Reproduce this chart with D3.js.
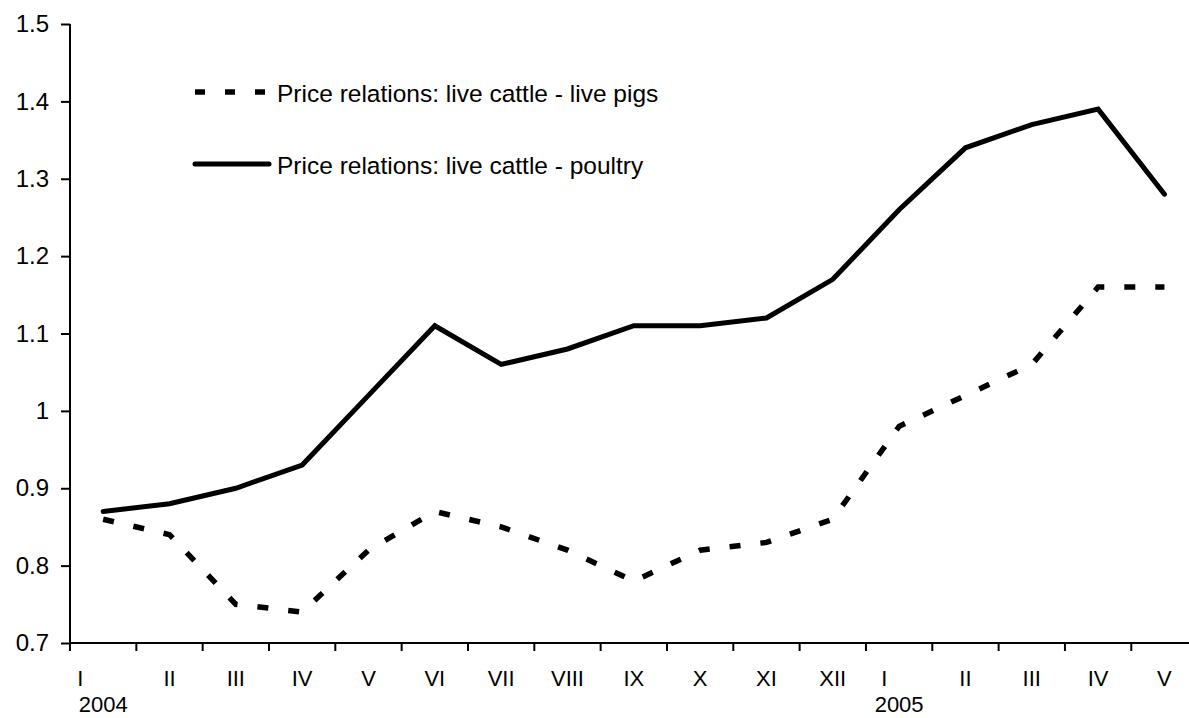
<!DOCTYPE html>
<html>
<head>
<meta charset="utf-8">
<script src="https://cdn.jsdelivr.net/npm/d3@7"></script>
<style>
  html, body { margin: 0; padding: 0; background: #fff; }
  svg { display: block; }
  text { font-family: "Liberation Sans", Arial, sans-serif; fill: #000; }
</style>
</head>
<body>
<svg id="chart" width="1189" height="718"></svg>
<script>
// ---- data ----
const months = ["I","II","III","IV","V","VI","VII","VIII","IX","X","XI","XII","I","II","III","IV","V"];
const years  = ["2004","","","","","","","","","","","","2005","","","",""];
const cattlePigs    = [0.86,0.84,0.75,0.74,0.82,0.87,0.85,0.82,0.78,0.82,0.83,0.86,0.98,1.02,1.06,1.16,1.16];
const cattlePoultry = [0.87,0.88,0.90,0.93,1.02,1.11,1.06,1.08,1.11,1.11,1.12,1.17,1.26,1.34,1.37,1.39,1.28];
const yTicks = [0.7,0.8,0.9,1.0,1.1,1.2,1.3,1.4,1.5];
const yTickLabels = ["0.7","0.8","0.9","1","1.1","1.2","1.3","1.4","1.5"];
const seriesNames = ["Price relations: live cattle - live pigs","Price relations: live cattle - poultry"];

// ---- layout ----
const svg = d3.select("#chart");
const idx = d3.range(months.length);
const x = d3.scaleBand().domain(idx).range([70, 70 + 17 * 66.33]).padding(0);
const y = d3.scaleLinear().domain([0.7, 1.5]).range([643, 24]);
const cx = i => x(i) + x.bandwidth() / 2;

// y axis
const yAxis = d3.axisLeft(y)
  .tickValues(yTicks)
  .tickSize(9)
  .tickPadding(12)
  .tickFormat((d, i) => yTickLabels[i]);
const gy = svg.append("g").attr("transform", "translate(70,0)").call(yAxis);
gy.select(".domain").attr("stroke", "#000").attr("stroke-width", 2).attr("d", `M0,${y(1.5)}V${y(0.7)}`);
gy.selectAll(".tick line").attr("stroke", "#000").attr("stroke-width", 2);
gy.selectAll(".tick text").attr("font-size", 24).attr("font-family", '"Liberation Sans", Arial, sans-serif');

// x axis (ticks at category boundaries)
const gx = svg.append("g");
gx.append("line")
  .attr("x1", 69).attr("x2", 1189)
  .attr("y1", y(0.7)).attr("y2", y(0.7))
  .attr("stroke", "#000").attr("stroke-width", 2);
gx.selectAll("line.tk").data(idx.concat([months.length])).enter().append("line")
  .attr("class", "tk")
  .attr("x1", d => d < months.length ? x(d) : x(d - 1) + x.bandwidth())
  .attr("x2", d => d < months.length ? x(d) : x(d - 1) + x.bandwidth())
  .attr("y1", y(0.7)).attr("y2", y(0.7) + 8)
  .attr("stroke", "#000").attr("stroke-width", 2);

const monthOffset = {0: -26, 12: -18};
gx.selectAll("text.m").data(idx).enter().append("text")
  .attr("class", "m")
  .attr("font-size", 22)
  .attr("text-anchor", d => monthOffset[d] !== undefined ? "start" : "middle")
  .attr("x", d => monthOffset[d] !== undefined ? cx(d) + monthOffset[d] : cx(d))
  .attr("y", 686)
  .text(d => months[d]);
gx.selectAll("text.yr").data(idx.filter(i => years[i])).enter().append("text")
  .attr("class", "yr")
  .attr("font-size", 22)
  .attr("text-anchor", "middle")
  .attr("x", d => cx(d))
  .attr("y", 712)
  .text(d => years[d]);

// lines
const line = d3.line().x((d, i) => cx(i)).y(d => y(d));
svg.append("path").datum(cattlePoultry)
  .attr("d", line).attr("fill", "none")
  .attr("stroke", "#000").attr("stroke-width", 5)
  .attr("stroke-linecap", "round").attr("stroke-linejoin", "miter");
svg.append("path").datum(cattlePigs)
  .attr("d", line).attr("fill", "none")
  .attr("stroke", "#000").attr("stroke-width", 5.5)
  .attr("stroke-dasharray", "11,20")
  .attr("stroke-linejoin", "miter");

// legend
const leg = svg.append("g");
const legY = [92, 164];
leg.append("line").attr("x1", 195).attr("x2", 267).attr("y1", legY[0]).attr("y2", legY[0])
  .attr("stroke", "#000").attr("stroke-width", 5.5).attr("stroke-dasharray", "10,20");
leg.append("line").attr("x1", 195).attr("x2", 269).attr("y1", legY[1]).attr("y2", legY[1])
  .attr("stroke", "#000").attr("stroke-width", 5).attr("stroke-linecap", "round");
leg.selectAll("text").data(seriesNames).enter().append("text")
  .attr("x", 277).attr("y", (d, i) => legY[i] + 10)
  .attr("font-size", 24.5)
  .text(d => d);
</script>
</body>
</html>
